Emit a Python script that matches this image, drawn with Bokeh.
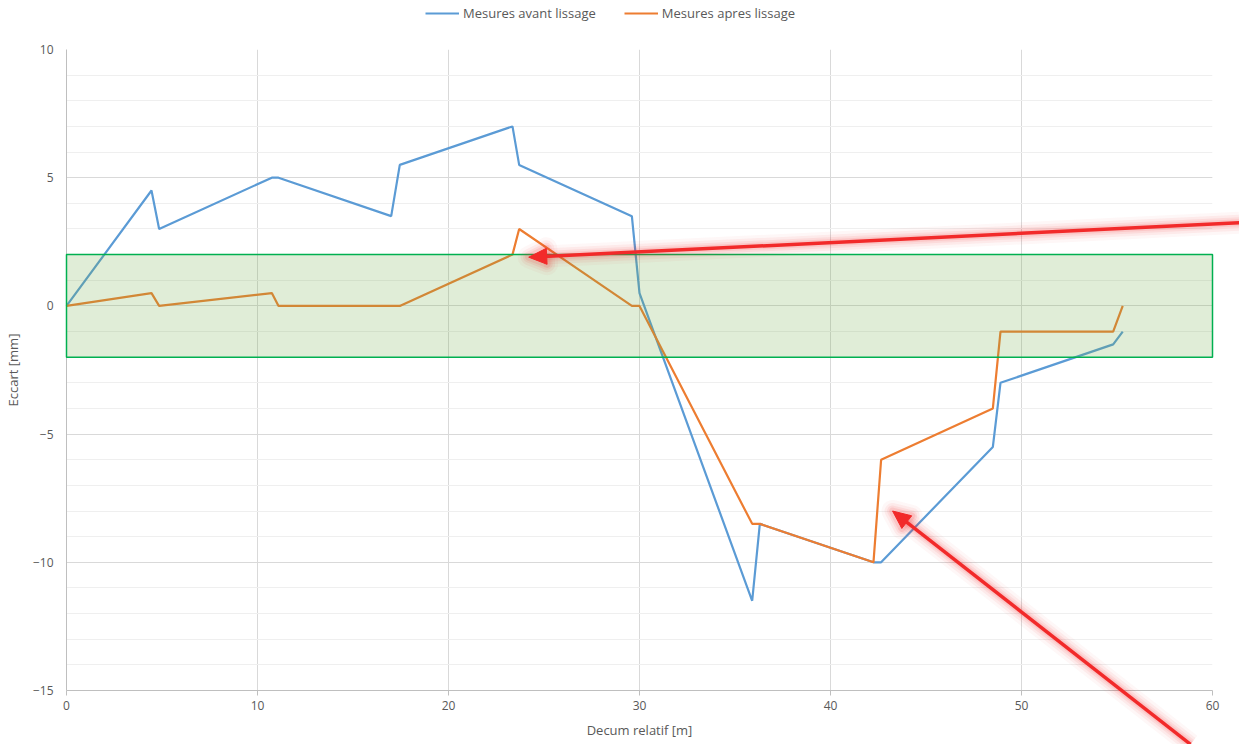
import math
from bokeh.plotting import figure
from bokeh.models import (BoxAnnotation, Legend, LegendItem, SingleIntervalTicker,
                          PolyAnnotation, Range1d)
from bokeh.embed import file_html
from bokeh.resources import INLINE

# ---- data ----
decum = [0, 4.45, 4.85, 10.75, 11.1, 17.0, 17.45, 23.35, 23.7, 29.6, 30.0,
         35.9, 36.3, 42.25, 42.65, 48.5, 48.9, 54.8, 55.3]
avant = [0, 4.5, 3.0, 5.0, 5.0, 3.5, 5.5, 7.0, 5.5, 3.5, 0.5,
         -11.5, -8.5, -10.0, -10.0, -5.5, -3.0, -1.5, -1.0]
apres = [0, 0.5, 0, 0.5, 0, 0, 0, 2.0, 3.0, 0, 0,
         -8.5, -8.5, -10.0, -6.0, -4.0, -1.0, -1.0, 0]
series_names = ["Mesures avant lissage", "Mesures apres lissage"]
series_colors = ["#5b9bd5", "#ed7d31"]
tolerance = (-2, 2)
x_limits = (0, 60)
y_limits = (-15, 10)
x_ticks_interval = 10
y_ticks_interval = 5
# arrows (start -> tip) in data units
arrow_x_start = [61.4, 58.85]
arrow_y_start = [3.24, -17.1]
arrow_x_end = [24.2, 43.25]
arrow_y_end = [1.9, -8.0]

FONT = "Open Sans"
GREY = "#595959"
RED = "#f22a2a"

W, H = 1239, 744
BL, BR, BT, BB = 66, 27, 49, 54
FW, FH = W - BL - BR, H - BT - BB

# ---- base figure: axes and grid ----
p = figure(width=W, height=H, output_backend="svg", toolbar_location=None,
           x_range=Range1d(*x_limits), y_range=Range1d(*y_limits),
           min_border_left=BL, min_border_right=BR, min_border_top=BT,
           min_border_bottom=BB)
p.outline_line_color = None
p.background_fill_color = "white"

p.xaxis.ticker = SingleIntervalTicker(interval=x_ticks_interval, num_minor_ticks=0)
p.yaxis.ticker = SingleIntervalTicker(interval=y_ticks_interval, num_minor_ticks=5)
p.xaxis.axis_label = "Decum relatif [m]"
p.yaxis.axis_label = "Eccart [mm]"
for ax in (p.xaxis[0], p.yaxis[0]):
    ax.axis_label_text_font = FONT
    ax.axis_label_text_font_style = "normal"
    ax.axis_label_text_font_size = "13px"
    ax.axis_label_text_color = GREY
    ax.major_label_text_font = FONT
    ax.major_label_text_font_size = "12px"
    ax.major_label_text_color = GREY
    ax.minor_tick_line_color = None
p.xaxis.axis_line_color = "#bfbfbf"
p.xaxis.major_tick_line_color = "#bfbfbf"
p.xaxis.major_tick_out = 5
p.xaxis.major_tick_in = 0
p.xaxis.major_label_standoff = 5
p.xaxis.axis_label_standoff = 8
p.yaxis.axis_line_color = "#bfbfbf"
p.yaxis.major_tick_line_color = None
p.yaxis.major_tick_out = 0
p.yaxis.major_tick_in = 0
p.yaxis.major_label_standoff = 9
p.yaxis.axis_label_standoff = 8

p.xgrid.grid_line_color = "#d9d9d9"
p.ygrid.grid_line_color = "#d9d9d9"
p.ygrid.minor_grid_line_color = "#efefef"

# ---- transparent overlay with the same data mapping, covering the whole canvas ----
sx = FW / (x_limits[1] - x_limits[0])
sy = FH / (y_limits[1] - y_limits[0])
ov = figure(width=W, height=H, output_backend="svg", toolbar_location=None,
            x_range=Range1d(x_limits[0] - BL / sx, x_limits[1] + BR / sx),
            y_range=Range1d(y_limits[0] - BB / sy, y_limits[1] + BT / sy),
            x_axis_type=None, y_axis_type=None,
            min_border=0, min_border_left=0, min_border_right=0,
            min_border_top=0, min_border_bottom=0,
            margin=(-H, 0, 0, 0))
ov.background_fill_alpha = 0
ov.border_fill_alpha = 0
ov.outline_line_color = None

# series
r1 = ov.line(decum, avant, line_color=series_colors[0], line_width=2.2)
r2 = ov.line(decum, apres, line_color=series_colors[1], line_width=2.2)

# tolerance band drawn over the lines
band = BoxAnnotation(left=x_limits[0], right=x_limits[1], bottom=tolerance[0], top=tolerance[1],
                     fill_color="#70ad47", fill_alpha=0.22,
                     line_color="#00b050", line_width=1.5, line_alpha=1.0)
ov.add_layout(band)

# arrows with a soft glow
HEAD_L, HEAD_HW = 18, 8
for i in range(len(arrow_x_start)):
    x0, y0, x1, y1 = arrow_x_start[i], arrow_y_start[i], arrow_x_end[i], arrow_y_end[i]
    dx, dy = (x1 - x0) * sx, (y1 - y0) * sy
    L = math.hypot(dx, dy)
    ux, uy = dx / L, dy / L
    nx, ny = -uy, ux
    bx, by = -ux * HEAD_L, -uy * HEAD_L  # base centre offset (px) from tip
    tri_x = [x1, x1 + (bx + nx * HEAD_HW) / sx, x1 + (bx - nx * HEAD_HW) / sx]
    tri_y = [y1, y1 + (by + ny * HEAD_HW) / sy, y1 + (by - ny * HEAD_HW) / sy]
    body_x = [x0, x1 + (bx + ux * 3) / sx]
    body_y = [y0, y1 + (by + uy * 3) / sy]
    for w, a in [(22, 0.04), (16, 0.06), (11, 0.08), (7, 0.10)]:
        ov.add_layout(PolyAnnotation(xs=body_x, ys=body_y, fill_alpha=0,
                                     line_color=RED, line_alpha=a, line_width=w,
                                     line_join="round"))
        ov.add_layout(PolyAnnotation(xs=tri_x, ys=tri_y, fill_color=RED, fill_alpha=a,
                                     line_color=RED, line_alpha=a, line_width=w,
                                     line_join="round"))
    ov.add_layout(PolyAnnotation(xs=body_x, ys=body_y, fill_alpha=0,
                                 line_color=RED, line_alpha=1, line_width=3.5,
                                 line_join="bevel"))
    ov.add_layout(PolyAnnotation(xs=tri_x, ys=tri_y, fill_color=RED, fill_alpha=1,
                                 line_color=RED, line_alpha=1, line_width=1))

legend = Legend(items=[LegendItem(label=series_names[0], renderers=[r1]),
                       LegendItem(label=series_names[1], renderers=[r2])],
                orientation="horizontal", location=(425, H - 22),
                label_text_font=FONT, label_text_font_size="13px",
                label_text_color=GREY, glyph_width=34, glyph_height=14,
                label_height=14, label_standoff=4, spacing=28,
                border_line_color=None, background_fill_alpha=0,
                padding=0, margin=0)
ov.add_layout(legend)

open("out.html", "w").write(file_html([p, ov], INLINE))
